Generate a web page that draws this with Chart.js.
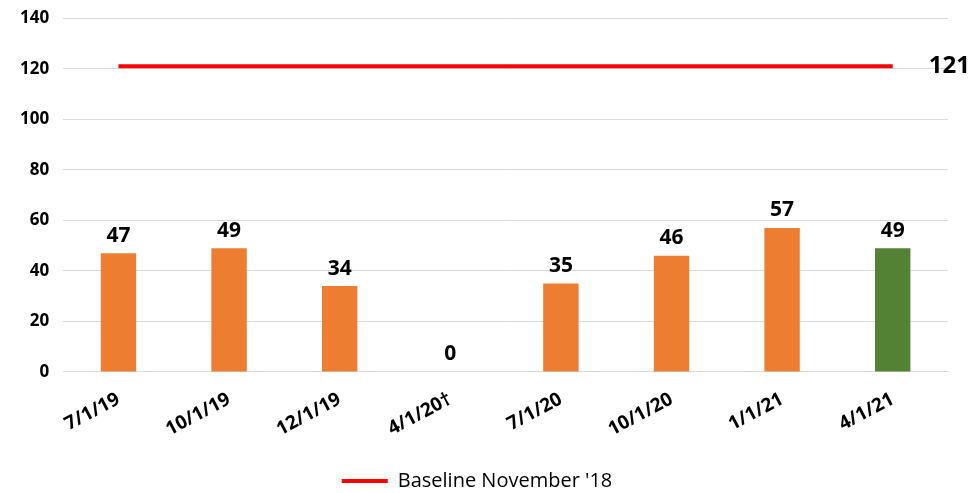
<!DOCTYPE html>
<html>
<head>
<meta charset="utf-8">
<script src="https://cdn.jsdelivr.net/npm/chart.js@4/dist/chart.umd.min.js"></script>
<style>
  body { margin: 0; background: #fff; }
  #wrap { width: 978px; height: 493px; }
</style>
</head>
<body>
<div id="wrap"><canvas id="barChart"></canvas></div>
<script>
var categories = ['7/1/19', '10/1/19', '12/1/19', '4/1/20\u2020', '7/1/20', '10/1/20', '1/1/21', '4/1/21'];
var counts = [47, 49, 34, 0, 35, 46, 57, 49];
var baseline = [121, 121, 121, 121, 121, 121, 121, 121];
var yTicks = [0, 20, 40, 60, 80, 100, 120, 140];

var barColors = ['#ED7D31', '#ED7D31', '#ED7D31', '#ED7D31', '#ED7D31', '#ED7D31', '#ED7D31', '#548235'];
var font = "'Open Sans', 'Noto Sans', sans-serif";

// value labels above bars + baseline label at the end of the red line
var valueLabels = {
    id: 'valueLabels',
    afterDatasetsDraw: function (chart) {
        var c = chart.ctx;
        c.save();
        c.fillStyle = '#000';
        c.textAlign = 'center';
        c.textBaseline = 'bottom';
        c.font = 'bold 21px ' + font;
        chart.getDatasetMeta(0).data.forEach(function (bar, i) {
            c.fillText(String(counts[i]), bar.x, bar.y - 7);
        });
        var pts = chart.getDatasetMeta(1).data;
        var last = pts[pts.length - 1];
        c.textAlign = 'left';
        c.textBaseline = 'middle';
        c.font = 'bold 24px ' + font;
        c.fillText(String(baseline[baseline.length - 1]), last.x + 36, last.y);
        c.restore();
    }
};

var ctx = document.getElementById('barChart');
var myChart = new Chart(ctx, {
    data: {
        labels: categories,
        datasets: [
            {
                type: 'bar',
                label: 'Count',
                data: counts,
                backgroundColor: barColors,
                barPercentage: 0.32,
                categoryPercentage: 1,
                order: 2
            },
            {
                type: 'line',
                label: "Baseline November '18",
                data: baseline,
                borderColor: '#FF0000',
                backgroundColor: '#FF0000',
                borderWidth: 4,
                pointRadius: 0,
                fill: false,
                order: 1
            }
        ]
    },
    options: {
        responsive: true,
        maintainAspectRatio: false,
        animation: false,
        layout: { padding: { top: 8, right: 30, left: 6, bottom: -8 } },
        plugins: {
            tooltip: { enabled: false },
            legend: {
                position: 'bottom',
                labels: {
                    filter: function (item) { return item.datasetIndex === 1; },
                    usePointStyle: true,
                    pointStyle: 'line',
                    pointStyleWidth: 46,
                    color: '#000',
                    font: { family: font, size: 20 },
                    padding: 2
                }
            }
        },
        scales: {
            x: {
                grid: { display: false },
                border: { color: '#D9D9D9', width: 1 },
                afterFit: function (axis) { axis.height += 20; },
                ticks: {
                    color: '#000',
                    font: { family: font, size: 19, weight: 'bold' },
                    minRotation: 28,
                    maxRotation: 28,
                    padding: 8
                }
            },
            y: {
                min: 0,
                max: 140,
                afterBuildTicks: function (axis) {
                    axis.ticks = yTicks.map(function (v) { return { value: v }; });
                },
                grid: { color: '#D9D9D9', lineWidth: 1, drawTicks: false },
                border: { display: false },
                ticks: {
                    color: '#000',
                    font: { family: font, size: 17, weight: 'bold', lineHeight: 0.5 },
                    padding: 14
                }
            }
        }
    },
    plugins: [valueLabels]
});
</script>
</body>
</html>
